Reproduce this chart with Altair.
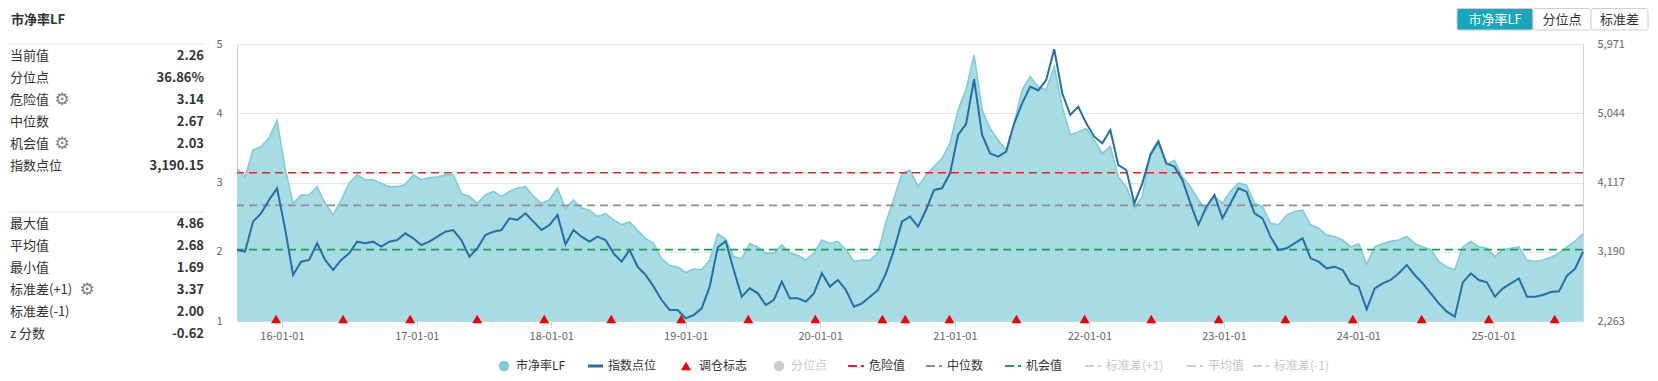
import altair as alt
import pandas as pd

# ------------------------------------------------------------------ data
pb_lf = [
    3.20, 3.08, 3.47, 3.52, 3.64, 3.90, 3.20, 2.70, 2.82, 2.82, 2.94, 2.70, 2.53, 2.75,
    2.99, 3.11, 3.04, 3.04, 2.99, 2.94, 2.94, 2.97, 3.11, 3.04, 3.07, 3.08, 3.11, 3.11,
    2.84, 2.80, 2.70, 2.82, 2.87, 2.80, 2.87, 2.92, 2.94, 2.80, 2.70, 2.75, 2.92, 2.62,
    2.75, 2.63, 2.60, 2.51, 2.55, 2.46, 2.39, 2.43, 2.31, 2.19, 2.12, 1.90, 1.80,
    1.78, 1.70, 1.75, 1.74, 1.88, 2.26, 2.18, 1.93, 1.90, 2.12, 2.07, 1.98, 1.98, 2.10,
    1.98, 1.95, 1.88, 1.98, 2.17, 2.12, 2.15, 2.03, 1.86, 1.88, 1.88, 1.98, 2.43,
    2.77, 3.13, 3.18, 2.94, 3.11, 3.23, 3.35, 3.57, 4.05, 4.34, 4.84, 4.05, 3.78, 3.61,
    3.47, 3.85, 4.34, 4.53, 4.38, 4.34, 4.67, 4.10, 3.69, 3.73, 3.78, 3.61, 3.42, 3.52,
    3.08, 2.94, 2.63, 2.80, 3.42, 3.61, 3.25, 3.32, 3.08, 2.94, 2.75, 2.60, 2.80, 2.70,
    2.87, 2.99, 2.96, 2.70, 2.65, 2.41, 2.39, 2.53, 2.58, 2.60, 2.39, 2.34, 2.24,
    2.22, 2.17, 2.07, 2.12, 1.82, 2.07, 2.12, 2.15, 2.17, 2.22, 2.12, 2.07, 2.03, 1.86,
    1.78, 1.74, 2.07, 2.15, 2.07, 2.05, 1.93, 2.03, 2.05, 2.07, 1.88, 1.86, 1.88, 1.92,
    1.98, 2.07, 2.15, 2.26,
]
index_points = [
    3213, 3191, 3593, 3704, 3883, 4039, 3500, 2879, 3057, 3080, 3303, 3080, 2946, 3080,
    3169, 3325, 3303, 3325, 3258, 3325, 3347, 3437, 3370, 3280, 3325, 3392, 3459, 3481,
    3347, 3124, 3236, 3414, 3459, 3481, 3637, 3615, 3704, 3593, 3481, 3548, 3682, 3290,
    3481, 3392, 3325, 3392, 3347, 3169, 3057, 3213, 2990, 2879, 2723, 2544, 2410,
    2410, 2299, 2343, 2433, 2723, 3250, 3330, 2946, 2589, 2700, 2633, 2477, 2544, 2790,
    2566, 2566, 2522, 2633, 2901, 2723, 2812, 2678, 2455, 2499, 2589, 2678, 2901,
    3213, 3593, 3660, 3526, 3749, 4017, 4039, 4240, 4753, 4900, 5500, 4753, 4507, 4463,
    4530, 4909, 5177, 5400, 5350, 5489, 5900, 5311, 5021, 5132, 4909, 4730, 4641, 4820,
    4351, 4284, 3838, 4106, 4485, 4664, 4374, 4329, 4150, 3838, 3550, 3793, 3950, 3637,
    3838, 4039, 3994, 3704, 3637, 3392, 3213, 3236, 3303, 3370, 3102, 3057, 2968,
    2990, 2946, 2767, 2723, 2420, 2700, 2767, 2812, 2901, 3013, 2879, 2767, 2633, 2499,
    2388, 2321, 2780, 2900, 2812, 2780, 2589, 2700, 2767, 2834, 2589, 2589, 2611, 2650,
    2660, 2870, 2960, 3190,
]
sample_dates = pd.date_range("2015-09-01", periods=len(pb_lf), freq="522h")

rebalance_dates = [
    "2015-12-16", "2016-06-15", "2016-12-14", "2017-06-14", "2017-12-13", "2018-06-13",
    "2018-12-20", "2019-06-20", "2019-12-19", "2020-06-18", "2020-08-19", "2020-12-17",
    "2021-06-17", "2021-12-19", "2022-06-18", "2022-12-18", "2023-06-17", "2023-12-17",
    "2024-06-21", "2024-12-20", "2025-06-17",
]
year_ticks = ["2016-01-01", "2017-01-01", "2018-01-01", "2019-01-01", "2020-01-01",
              "2021-01-01", "2022-01-01", "2023-01-01", "2024-01-01", "2025-01-01"]
pb_ticks = [1, 2, 3, 4, 5]
index_ticks = [2263, 3190, 4117, 5044, 5971]

ref_names = ["危险值", "中位数", "机会值"]
ref_values = [3.14, 2.67, 2.03]
ref_colors = ["#e0262c", "#8a8f99", "#1f9e55"]

stat_labels_top = ["当前值", "分位点", "危险值", "中位数", "机会值", "指数点位"]
stat_values_top = ["2.26", "36.86%", "3.14", "2.67", "2.03", "3,190.15"]
stat_labels_bottom = ["最大值", "平均值", "最小值", "标准差(+1)", "标准差(-1)", "z 分数"]
stat_values_bottom = ["4.86", "2.68", "1.69", "3.37", "2.00", "-0.62"]

legend_labels = ["市净率LF", "指数点位", "调仓标志", "分位点", "危险值", "中位数",
                 "机会值", "标准差(+1)", "平均值", "标准差(-1)"]
button_labels = ["市净率LF", "分位点", "标准差"]
chart_title = "市净率LF"

# ------------------------------------------------------------------ layout
W, H = 1346, 277
FONT = "Noto Sans CJK SC"
TEAL_FILL = "#a7dce4"
TEAL_EDGE = "#80ccd6"
BLUE = "#236fa6"
RED = "#f20000"


def dt(s):
    d = pd.Timestamp(s)
    return alt.DateTime(year=d.year, month=d.month, date=d.day)


x_domain = [dt(sample_dates[0]), dt(sample_dates[-1])]


def xenc(axis=None):
    return alt.X("date:T", scale=alt.Scale(domain=x_domain), axis=axis, title=None)


def pix(field):
    return alt.X(f"{field}:Q", scale=None, axis=None)


def piy(field):
    return alt.Y(f"{field}:Q", scale=None, axis=None)


df = pd.DataFrame({"date": sample_dates, "pb": pb_lf, "idx": index_points})
ref_df = pd.DataFrame({"name": ref_names, "value": ref_values, "color": ref_colors})
trade_df = pd.DataFrame({"date": pd.to_datetime(rebalance_dates)})

x_axis = alt.Axis(values=[dt(s) for s in year_ticks], format="%y-%m-%d", title=None,
                  labelColor="#666666", labelFontSize=11, labelFont=FONT,
                  tickColor="#ccd6eb", tickSize=7, domainColor="#ccd6eb",
                  labelPadding=2, grid=False)

area = alt.Chart(df).mark_area(
    color=TEAL_FILL, opacity=1,
    line={"color": TEAL_EDGE, "strokeWidth": 1.6},
).encode(
    x=xenc(x_axis),
    y=alt.Y("pb:Q", scale=alt.Scale(domain=[1, 5], nice=False, zero=False),
            axis=alt.Axis(values=pb_ticks, format="d", title=None, labelColor="#666666",
                          labelFontSize=11, labelFont=FONT, grid=True, gridColor="#e6e6e6",
                          domainColor="#ccd6eb", ticks=False, labelPadding=15)),
    y2=alt.datum(1),
)

refs = alt.Chart(ref_df).mark_rule(strokeDash=[8, 5], strokeWidth=1.6).encode(
    y=alt.Y("value:Q", scale=alt.Scale(domain=[1, 5], nice=False, zero=False), axis=None),
    color=alt.Color("color:N", scale=None),
)

index_line = alt.Chart(df).mark_line(color=BLUE, strokeWidth=2).encode(
    x=xenc(),
    y=alt.Y("idx:Q", scale=alt.Scale(domain=[index_ticks[0], index_ticks[-1]], nice=False, zero=False),
            axis=alt.Axis(orient="right", values=index_ticks, format=",d", title=None,
                          labelColor="#666666", labelFontSize=11, labelFont=FONT, grid=False,
                          domainColor="#ccd6eb", ticks=False, labelPadding=14)),
)

trades = alt.Chart(trade_df).mark_point(
    shape="triangle-up", filled=True, size=100, color=RED, opacity=1
).encode(x=xenc(), y=alt.value(H - 2))

# ---------------- left statistics panel
stat_df = pd.DataFrame({
    "label": stat_labels_top + stat_labels_bottom,
    "value": stat_values_top + stat_values_bottom,
    "row": list(range(12)),
})
stat_base = alt.Chart(stat_df).transform_calculate(
    py="datum.row < 6 ? 12 + 22 * datum.row : 180 + 22 * (datum.row - 6)",
    lx="-227", vx="-33",
)
stat_labels = stat_base.mark_text(align="left", baseline="middle", fontSize=13,
                                  font=FONT, color="#333333").encode(
    x=pix("lx"), y=piy("py"), text="label:N")
stat_values = stat_base.mark_text(align="right", baseline="middle", fontSize=13,
                                  font=FONT, fontWeight="bold", color="#333333").encode(
    x=pix("vx"), y=piy("py"), text="value:N")

gear_df = pd.DataFrame({"gx": [-175, -175, -150], "gy": [56, 100, 246], "g": ["⚙"] * 3})
gears = alt.Chart(gear_df).mark_text(align="center", baseline="middle", fontSize=17,
                                     font="DejaVu Sans", color="#808080").encode(
    x=pix("gx"), y=piy("gy"), text="g:N")

sep_df = pd.DataFrame({"sy": [0, 168]})
seps = alt.Chart(sep_df).mark_rule(color="#dde3ea", strokeWidth=1).encode(
    x=alt.value(-228), x2=alt.value(-32), y=piy("sy"))

title = alt.Chart(pd.DataFrame({"t": [chart_title]})).mark_text(
    align="left", baseline="middle", fontSize=13, font=FONT, fontWeight="bold",
    color="#333333").encode(x=alt.value(-226), y=alt.value(-24), text="t:N")

# ---------------- legend
legend_df = pd.DataFrame({
    "name": legend_labels,
    "kind": ["circle", "line", "triangle", "circle", "dash", "dash", "dash", "dash", "dash", "dash"],
    "icolor": [TEAL_EDGE, BLUE, RED, "#cccccc", ref_colors[0], ref_colors[1], ref_colors[2],
               "#d0d0d0", "#d0d0d0", "#d0d0d0"],
    "tcolor": ["#333333"] * 3 + ["#c8c8c8"] + ["#333333"] * 3 + ["#c8c8c8"] * 3,
    "tx": [279, 371, 462, 554, 632, 710, 789, 869, 971, 1037],
})
LY = 322
leg = alt.Chart(legend_df)
leg_text = leg.mark_text(align="left", baseline="middle", fontSize=12, font=FONT).encode(
    x=pix("tx"), y=alt.value(LY), text="name:N", color=alt.Color("tcolor:N", scale=None))
leg_circle = leg.transform_filter("datum.kind == 'circle'").transform_calculate(
    ix="datum.tx - 12").mark_point(shape="circle", filled=True, size=110, opacity=1).encode(
    x=pix("ix"), y=alt.value(LY), color=alt.Color("icolor:N", scale=None))
leg_tri = leg.transform_filter("datum.kind == 'triangle'").transform_calculate(
    ix="datum.tx - 13").mark_point(shape="triangle-up", filled=True, size=100, opacity=1).encode(
    x=pix("ix"), y=alt.value(LY), color=alt.Color("icolor:N", scale=None))
leg_line = leg.transform_filter("datum.kind == 'line'").transform_calculate(
    a="datum.tx - 20", b="datum.tx - 5").mark_rule(strokeWidth=3).encode(
    x=pix("a"), x2="b:Q", y=alt.value(LY), color=alt.Color("icolor:N", scale=None))
leg_dash = leg.transform_filter("datum.kind == 'dash'").transform_calculate(
    a="datum.tx - 21", b="datum.tx - 4").mark_rule(strokeWidth=2, strokeDash=[9, 4, 3, 20]).encode(
    x=pix("a"), x2="b:Q", y=alt.value(LY), color=alt.Color("icolor:N", scale=None))

# ---------------- buttons (top right)
btn_df = pd.DataFrame({
    "label": button_labels,
    "x0": [1220, 1296, 1354],
    "x1": [1296, 1354, 1411],
    "fill": ["#17a6bb", "#ffffff", "#ffffff"],
    "tcol": ["#ffffff", "#333333", "#333333"],
})
btn_base = alt.Chart(btn_df)
btn_rect = btn_base.mark_rect(stroke="#cfcfcf", strokeWidth=1, cornerRadius=2).encode(
    x=pix("x0"), x2="x1:Q", y=alt.value(-35.5), y2=alt.value(-14),
    fill=alt.Fill("fill:N", scale=None))
btn_text = btn_base.transform_calculate(cx="(datum.x0 + datum.x1) / 2").mark_text(
    align="center", baseline="middle", fontSize=13, font=FONT).encode(
    x=pix("cx"), y=alt.value(-24.5), text="label:N", color=alt.Color("tcol:N", scale=None))

chart = alt.layer(
    area, refs, index_line, trades,
    seps, stat_labels, stat_values, gears, title,
    leg_line, leg_dash, leg_circle, leg_tri, leg_text,
    btn_rect, btn_text,
).resolve_scale(
    x="independent", y="independent"
).properties(
    width=W, height=H,
    autosize=alt.AutoSizeParams(type="none"),
    padding={"left": 229, "top": 36, "right": 67, "bottom": 52},
).configure(background="white").configure_view(stroke=None)

chart.save("out.html", embed_options={"renderer": "svg", "actions": False})
